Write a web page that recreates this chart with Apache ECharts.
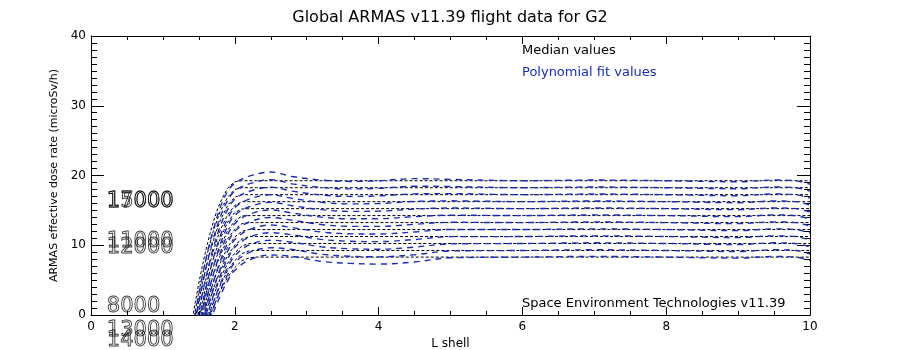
<!DOCTYPE html>
<html>
<head>
<meta charset="utf-8">
<script src="https://cdn.jsdelivr.net/npm/echarts@6/dist/echarts.min.js"></script>
<style>html,body{margin:0;padding:0;background:#fff}#c{width:900px;height:350px}</style>
</head>
<body>
<div id="c"></div>
<script>
// ---- data ----
const lShellMedian = [1.40,1.45,1.50,1.55,1.60,1.65,1.70,1.75,1.80,1.90,2.00,2.10,2.20,2.30,10.0];
const median08 = [null,null,null,null,null,-0.28,1.1,2.3,3.5,5.4,6.8,7.8,8.2,8.3,8.3];
const median09 = [null,null,null,null,-1.3,0.3,1.8,3.1,4.3,6.4,7.8,8.8,9.2,9.25,9.25];
const median10 = [null,null,null,null,-0.7,1.0,2.6,4.0,5.3,7.4,8.9,9.9,10.25,10.25,10.25];
const median11 = [null,null,null,-1.5,0.4,2.1,3.7,5.1,6.4,8.5,10.0,10.9,11.25,11.25,11.25];
const median12 = [null,null,null,-0.8,1.2,3.0,4.7,6.2,7.5,9.7,11.2,12.0,12.25,12.25,12.25];
const median13 = [null,null,null,0,2.1,4.0,5.7,7.3,8.6,10.9,12.3,13.1,13.25,13.25,13.25];
const median14 = [null,null,-1.4,0.9,3.1,5.1,6.8,8.4,9.8,12.1,13.5,14.2,14.25,14.25,14.25];
const median15 = [null,null,-0.5,1.9,4.2,6.2,8.0,9.6,11.0,13.3,14.7,15.2,15.25,15.25,15.25];
const median16 = [null,-2.1,0.5,3.0,5.2,7.3,9.1,10.8,12.2,14.4,15.7,16.25,16.25,16.25,16.25];
const median17 = [null,-0.55,2.1,4.6,6.8,8.8,10.6,12.2,13.6,15.7,16.9,17.25,17.25,17.25,17.25];
const median18 = [-2.3,0.6,3.3,5.8,8.1,10.1,12.0,13.5,14.9,16.9,18.0,18.25,18.25,18.25,18.25];
const median19 = [-1.2,1.8,4.6,7.1,9.4,11.5,13.3,14.9,16.2,18.2,19.1,19.25,19.25,19.25,19.25];

const lShellFit = [1.45,1.50,1.55,1.60,1.65,1.70,1.80,1.90,2.00,2.20,2.50,2.80,3.20,3.60,4.00,4.50,5.00,6.00,7.00,8.00,9.00,9.50,9.80,10.0];
const fit08 = [null,null,null,null,-1.1,0.3,2.8,4.9,6.4,7.9,8.6,8.4,7.7,7.4,7.3,7.6,8.2,8.3,8.4,8.3,8.15,8.4,8.3,7.8];
const fit09 = [null,null,null,null,-0.6,0.9,3.6,5.8,7.5,8.95,9.64,9.4,8.71,8.42,8.34,8.64,9.18,9.25,9.35,9.25,9.1,9.35,9.25,8.75];
const fit10 = [null,null,null,null,0,1.7,4.5,6.8,8.5,10.04,10.72,10.44,9.78,9.5,9.43,9.73,10.2,10.25,10.35,10.25,10.1,10.35,10.25,9.75];
const fit11 = [null,null,null,-0.7,1.1,2.8,5.7,8.0,9.7,11.14,11.81,11.49,10.84,10.57,10.52,10.82,11.23,11.25,11.35,11.25,11.1,11.35,11.25,10.75];
const fit12 = [null,null,null,0,1.9,3.7,6.7,9.1,10.8,12.23,12.9,12.53,11.9,11.64,11.61,11.91,12.26,12.25,12.35,12.25,12.1,12.35,12.25,11.75];
const fit13 = [null,null,-1.3,0.9,2.9,4.7,7.8,10.3,12.0,13.33,13.98,13.58,12.97,12.71,12.7,13.0,13.29,13.25,13.35,13.25,13.1,13.35,13.25,12.75];
const fit14 = [null,null,-0.5,1.8,3.9,5.8,9.0,11.5,13.1,14.42,15.07,14.62,14.03,13.79,13.8,14.1,14.31,14.25,14.35,14.25,14.1,14.35,14.25,13.75];
const fit15 = [null,-2.0,0.5,2.9,5.0,6.9,10.2,12.7,14.3,15.52,16.15,15.67,15.1,14.86,14.89,15.19,15.34,15.25,15.35,15.25,15.1,15.35,15.25,14.75];
const fit16 = [null,-1.0,1.5,3.9,6.1,8.1,11.4,13.8,15.4,16.61,17.24,16.71,16.16,15.93,15.98,16.28,16.37,16.25,16.35,16.25,16.1,16.35,16.25,15.75];
const fit17 = [-2.2,0.55,3.1,5.5,7.6,9.6,12.8,15.1,16.6,17.71,18.33,17.76,17.22,17.0,17.07,17.37,17.4,17.25,17.35,17.25,17.1,17.35,17.25,16.75];
const fit18 = [-1.2,1.7,4.3,6.8,8.9,10.9,14.1,16.4,17.8,18.8,19.41,18.8,18.29,18.08,18.16,18.46,18.42,18.25,18.35,18.25,18.1,18.35,18.25,17.75];
const fit19 = [0,2.9,5.6,8.1,10.3,12.2,15.5,17.7,18.9,19.9,20.5,19.85,19.35,19.15,19.25,19.55,19.45,19.25,19.35,19.25,19.1,19.35,19.25,18.75];

const altitudeLabels = ['8000','11000','12000','13000','14000','15000','17000'];
const altitudeLabelL = [0.22,0.22,0.22,0.22,0.22,0.22,0.22];
const altitudeLabelY = [1.2,10.6,9.7,-2.3,-3.7,16.3,16.3];

const xTickMin = 0, xTickMax = 10, xTickStep = 2;
const yTickMin = 0, yTickMax = 40, yTickStep = 10;

// ---- chart ----
const medians = [median08,median09,median10,median11,median12,median13,median14,median15,median16,median17,median18,median19];
const fits = [fit08,fit09,fit10,fit11,fit12,fit13,fit14,fit15,fit16,fit17,fit18,fit19];
const FONT = 'DejaVu Sans';
const BLUE = '#1a2cbf';

function pairs(xs, ys) {
  return xs.map((x, i) => [x, ys[i]]).filter(p => p[1] !== null);
}

const series = [];
medians.forEach((m, i) => {
  series.push({
    type: 'line', name: 'Median ' + i, data: pairs(lShellMedian, m),
    showSymbol: false, symbol: 'none', silent: true, clip: true,
    lineStyle: { color: '#000', width: 1, type: [3, 2] }, z: 2
  });
});
fits.forEach((f, i) => {
  series.push({
    type: 'line', name: 'Fit ' + i, data: pairs(lShellFit, f), smooth: 0.35,
    showSymbol: false, symbol: 'none', silent: true, clip: true,
    lineStyle: { color: BLUE, width: 1.4, type: [6, 5] }, z: 3
  });
});
series.push({
  type: 'scatter', name: 'alt', clip: false, symbolSize: 0, silent: true, z: 4,
  data: altitudeLabels.map((t, i) => ({ value: [altitudeLabelL[i], altitudeLabelY[i]], name: t })),
  label: { show: true, position: 'right', distance: 0, formatter: p => p.name,
    fontFamily: FONT, fontSize: 21, color: 'rgba(255,255,255,0)',
    textBorderColor: '#000', textBorderWidth: 0.9 },
  labelLayout: { hideOverlap: false }
});

const axisCommon = {
  axisLine: { show: true, onZero: false, lineStyle: { color: '#000', width: 1 } },
  splitLine: { show: false },
  minorSplitLine: { show: false }
};

const chart = echarts.init(document.getElementById('c'), null, { renderer: 'canvas' });
chart.setOption({
  backgroundColor: '#fff',
  animation: false,
  title: [
    { text: 'Global ARMAS v11.39 flight data for G2', left: 'center', top: 10, padding: 0,
      textStyle: { fontFamily: FONT, fontSize: 16, fontWeight: 'normal', color: '#000' } },
    { text: 'Median values', left: 522, top: 44, padding: 0,
      textStyle: { fontFamily: FONT, fontSize: 13, fontWeight: 'normal', color: '#000' } },
    { text: 'Polynomial fit values', left: 522, top: 66, padding: 0,
      textStyle: { fontFamily: FONT, fontSize: 13, fontWeight: 'normal', color: BLUE } },
    { text: 'Space Environment Technologies v11.39', left: 522, top: 297, padding: 0,
      textStyle: { fontFamily: FONT, fontSize: 13, fontWeight: 'normal', color: '#000' } }
  ],
  grid: { left: 91, right: 90, top: 36, bottom: 35, containLabel: false, outerBoundsMode: 'none' },
  xAxis: [
    Object.assign({}, axisCommon, {
      type: 'value', position: 'bottom', min: xTickMin, max: xTickMax, interval: xTickStep,
      name: 'L shell', nameLocation: 'middle', nameGap: 23,
      nameTextStyle: { fontFamily: FONT, fontSize: 12, color: '#000' },
      axisTick: { show: true, inside: true, length: 8, lineStyle: { color: '#000' } },
      minorTick: { show: true, splitNumber: 4, length: 4, lineStyle: { color: '#000' } },
      axisLabel: { show: true, margin: 6, fontFamily: FONT, fontSize: 12, color: '#000' }
    }),
    Object.assign({}, axisCommon, {
      type: 'value', position: 'top', min: xTickMin, max: xTickMax, interval: xTickStep,
      axisTick: { show: true, inside: true, length: 8, lineStyle: { color: '#000' } },
      minorTick: { show: true, splitNumber: 4, length: 4, lineStyle: { color: '#000' } },
      axisLabel: { show: false }
    })
  ],
  yAxis: [
    Object.assign({}, axisCommon, {
      type: 'value', position: 'left', min: yTickMin, max: yTickMax, interval: yTickStep,
      name: 'ARMAS effective dose rate (microSv/h)', nameLocation: 'middle', nameGap: 14,
      nameTextStyle: { fontFamily: FONT, fontSize: 11, color: '#000' },
      axisTick: { show: true, inside: true, length: 13, lineStyle: { color: '#000' } },
      minorTick: { show: true, splitNumber: 10, length: 6, lineStyle: { color: '#000' } },
      axisLabel: { show: true, margin: 5, fontFamily: FONT, fontSize: 12, color: '#000' }
    }),
    Object.assign({}, axisCommon, {
      type: 'value', position: 'right', min: yTickMin, max: yTickMax, interval: yTickStep,
      axisTick: { show: true, inside: true, length: 13, lineStyle: { color: '#000' } },
      minorTick: { show: true, splitNumber: 10, length: 6, lineStyle: { color: '#000' } },
      axisLabel: { show: false }
    })
  ],
  series: series
});
</script>
</body>
</html>
